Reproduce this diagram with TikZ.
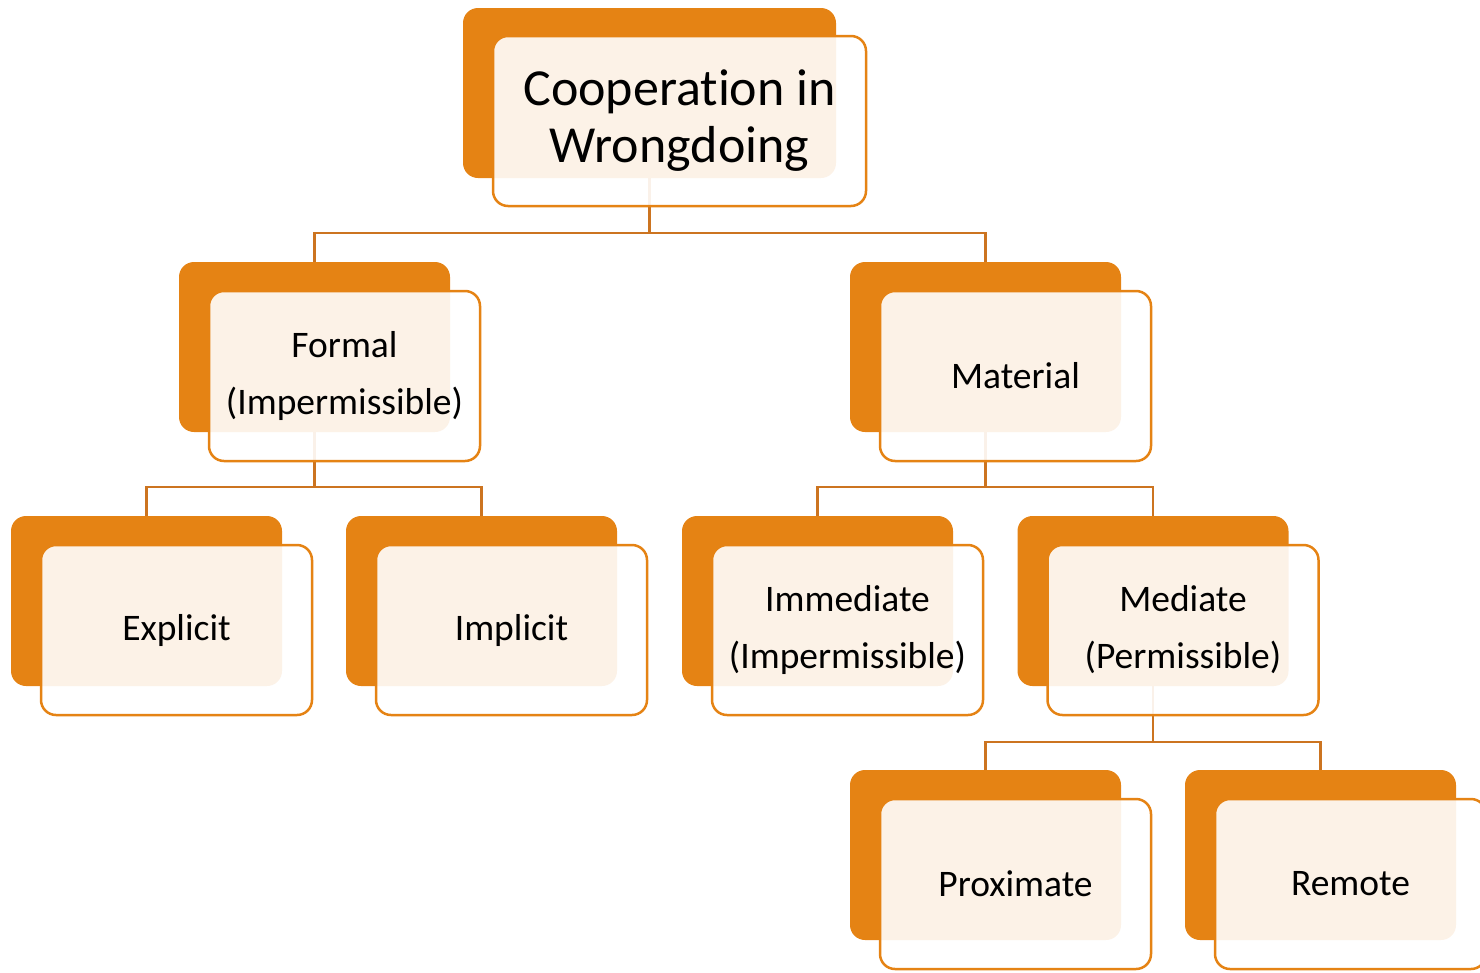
\documentclass[tikz,border=0pt]{standalone}
\usepackage{fontspec}
\setmainfont[Ligatures=NoCommon]{Carlito}
\usetikzlibrary{backgrounds}
\definecolor{accent}{RGB}{229,131,20}
\definecolor{linkcol}{RGB}{204,116,32}

\begin{document}
\begin{tikzpicture}[x=1pt,y=-1pt,
  back/.style={fill=accent,rounded corners=15pt,minimum width=271pt,minimum height=170pt,inner sep=0pt},
  front/.style={draw=accent,line width=2.5pt,fill=white,fill opacity=0.9,text opacity=1,rounded corners=15pt,
    minimum width=271pt,minimum height=170pt,inner sep=0pt,align=center,font=\fontsize{37.5}{57}\selectfont},
  link/.style={draw=linkcol,line width=2.5pt}]
\useasboundingbox (0,0) rectangle (1480,972);
% top:
\node[back,minimum width=373pt] (coopbg) at (649.5,93) {};
\node[front,minimum width=373pt,font=\fontsize{52}{57}\selectfont] (coop) at ([shift={(30,28)}]coopbg.center) {Cooperation in\\Wrongdoing};
% second row:
\node[back] (formalbg) at (314.5,347) {};
\node[front] (formal) at ([shift={(30,29)}]formalbg.center) {Formal\\(Impermissible)};
\node[back] (materialbg) at (985.5,347) {};
\node[front] (material) at ([shift={(30,29)}]materialbg.center) {Material};
% third row:
\node[back] (explicitbg) at (146.5,601) {};
\node[front] (explicit) at ([shift={(30,29)}]explicitbg.center) {Explicit};
\node[back] (implicitbg) at (481.5,601) {};
\node[front] (implicit) at ([shift={(30,29)}]implicitbg.center) {Implicit};
\node[back] (immediatebg) at (817.5,601) {};
\node[front] (immediate) at ([shift={(30,29)}]immediatebg.center) {Immediate\\(Impermissible)};
\node[back] (mediatebg) at (1153,601) {};
\node[front] (mediate) at ([shift={(30,29)}]mediatebg.center) {Mediate\\(Permissible)};
% bottom row:
\node[back] (proximatebg) at (985.5,855) {};
\node[front] (proximate) at ([shift={(30,29)}]proximatebg.center) {Proximate};
\node[back] (remotebg) at (1320.5,855) {};
\node[front] (remote) at ([shift={(30,29)}]remotebg.center) {Remote};
% links:
\begin{scope}[on background layer]
\draw[link] (coopbg.south) -- ++(0,55) -| (formalbg.north);
\draw[link] (coopbg.south) -- ++(0,55) -| (materialbg.north);
\draw[link] (formalbg.south) -- ++(0,55) -| (explicitbg.north);
\draw[link] (formalbg.south) -- ++(0,55) -| (implicitbg.north);
\draw[link] (materialbg.south) -- ++(0,55) -| (immediatebg.north);
\draw[link] (materialbg.south) -- ++(0,55) -| (mediatebg.north);
\draw[link] (mediatebg.south) -- ++(0,56) -| (proximatebg.north);
\draw[link] (mediatebg.south) -- ++(0,56) -| (remotebg.north);
\end{scope}
\end{tikzpicture}
\end{document}
